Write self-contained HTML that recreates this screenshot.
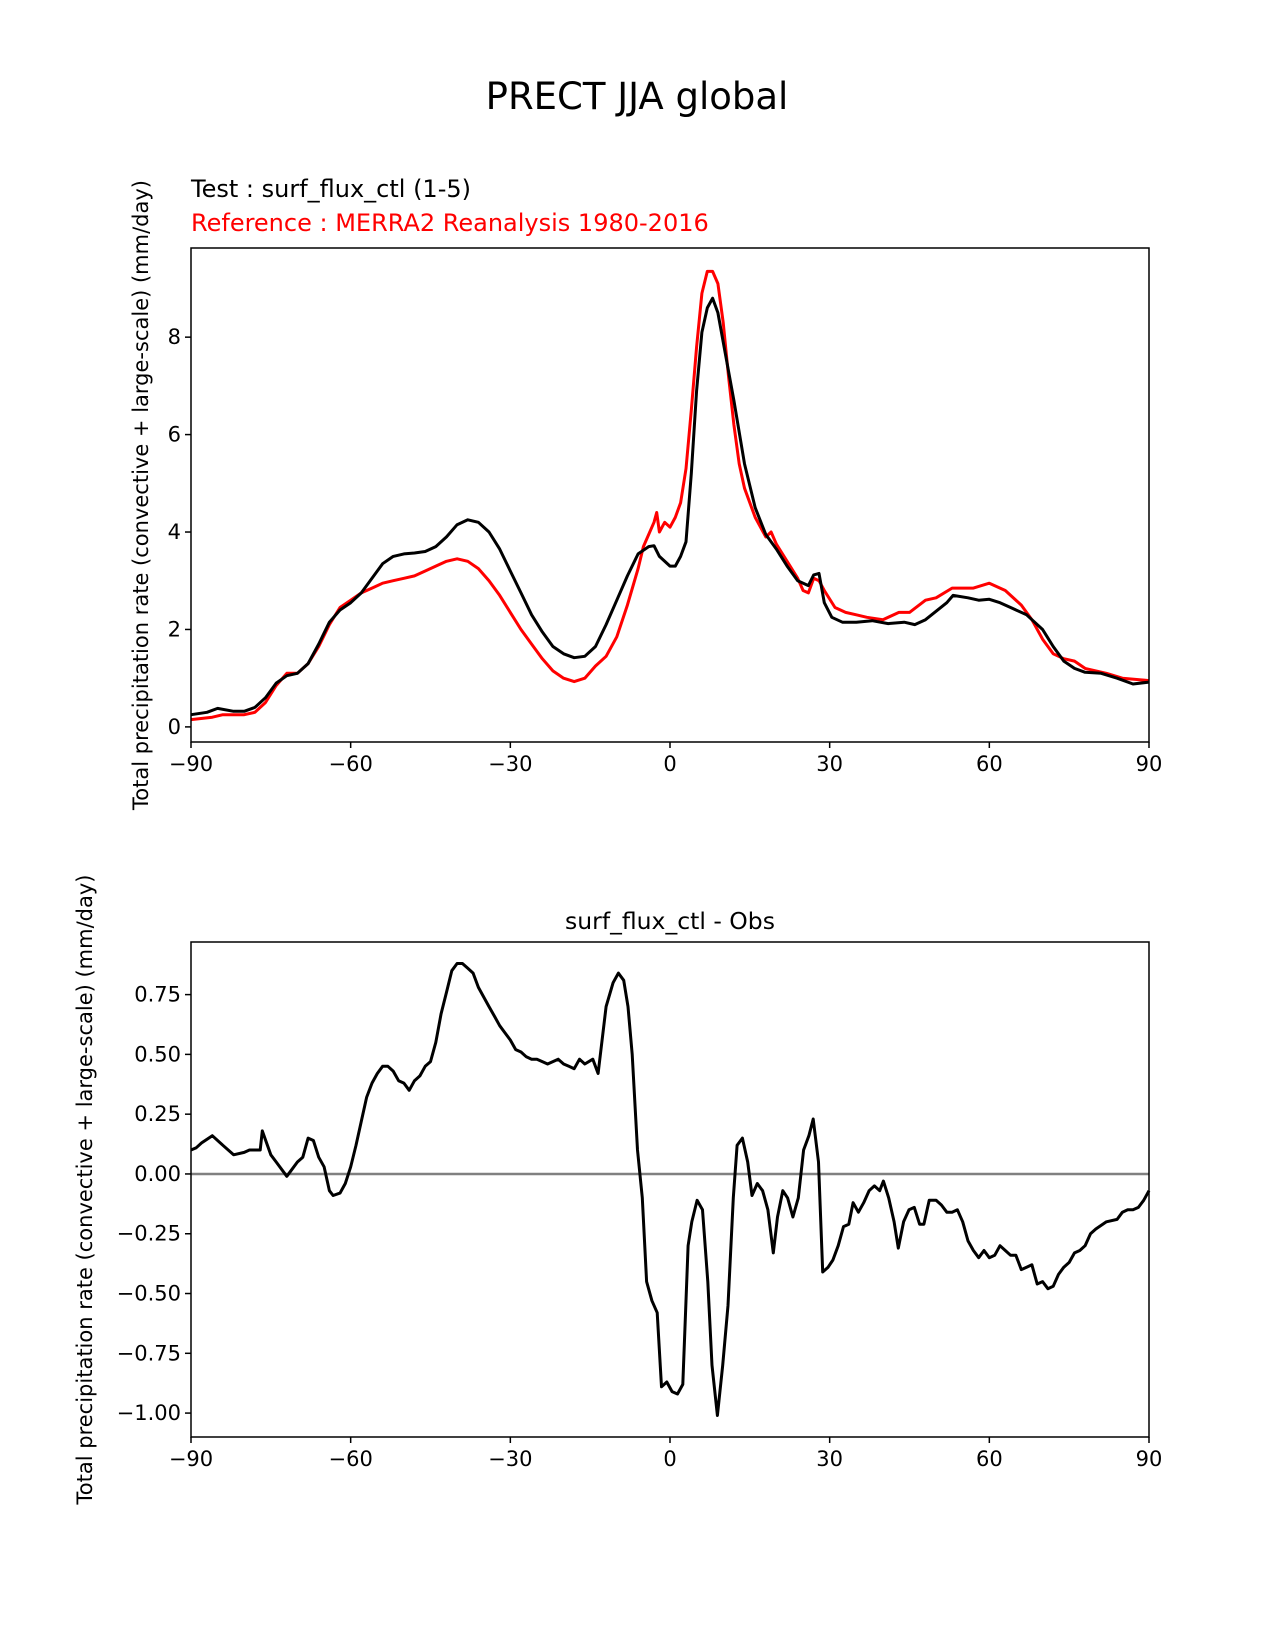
<!DOCTYPE html>
<html><head><meta charset="utf-8"><style>
body{margin:0;background:#fff}
svg{display:block;font-family:"DejaVu Sans","Liberation Sans",sans-serif}
</style></head><body>
<svg id="fig" width="1275" height="1650" viewBox="0 0 1275 1650">
<rect width="1275" height="1650" fill="#fff"/>
<text x="637" y="109" font-size="37" text-anchor="middle">PRECT JJA global</text>
<text x="191" y="197" font-size="24">Test : surf_flux_ctl (1-5)</text>
<text x="191" y="231" font-size="24" fill="#f00">Reference : MERRA2 Reanalysis 1980-2016</text>
<text x="670" y="929" font-size="23.5" text-anchor="middle">surf_flux_ctl - Obs</text>
<g id="top"></g>
<g id="bot"></g>
</svg>
<script>
const testLat=[-90,-87,-85,-82,-80,-78,-76,-74,-72,-70,-68,-66,-64,-62,-60,-58,-56,-54,-52,-50,-48,-46,-44,-42,-40,-38,-36,-34,-32,-30,-28,-26,-24,-22,-20,-18,-16,-14,-12,-10,-8,-6,-4,-3,-2,0,1,2,3,4,5,6,7,8,9,10,12,14,16,18,20,22,24,26,27,28,29,30.4,32.4,35,38,41,44,46,48,52,53.2,56,58,60,62,64,67,70,72,74,76,78,81,84,87,90];
const testVal=[0.25,0.3,0.38,0.32,0.32,0.4,0.6,0.9,1.05,1.1,1.3,1.7,2.15,2.4,2.55,2.75,3.05,3.35,3.5,3.55,3.57,3.6,3.7,3.9,4.15,4.25,4.2,4.0,3.65,3.2,2.75,2.3,1.95,1.65,1.5,1.42,1.45,1.65,2.1,2.6,3.1,3.55,3.7,3.72,3.5,3.3,3.3,3.5,3.8,5.2,6.9,8.1,8.6,8.8,8.5,7.9,6.7,5.4,4.5,3.95,3.65,3.3,3.0,2.9,3.12,3.15,2.55,2.25,2.15,2.15,2.18,2.12,2.15,2.1,2.2,2.55,2.7,2.65,2.6,2.62,2.55,2.45,2.3,2.0,1.65,1.35,1.2,1.12,1.1,1.0,0.88,0.92];
const refLat=[-90,-86,-84,-80,-78,-76,-74,-72,-70,-68,-66,-64,-62,-60,-58,-56,-54,-52,-50,-48,-46,-44,-42,-40,-38,-36,-34,-32,-30,-28,-26,-24,-22,-20,-18,-16,-14,-12,-10,-8,-6,-5,-3,-2.5,-2,-1,0,1,2,3,4,5,6,7,8,9,10,11,12,13,14,16,18,19,20,22,24,25,26,27,28,29,31,33,35,37,40,43,45,48,50,53,57,60,63,66,68,70,72,74,76,78,82,85,90];
const refVal=[0.15,0.2,0.25,0.25,0.3,0.5,0.85,1.1,1.1,1.3,1.65,2.1,2.45,2.6,2.75,2.85,2.95,3.0,3.05,3.1,3.2,3.3,3.4,3.45,3.4,3.25,3.0,2.7,2.35,2.0,1.7,1.4,1.15,1.0,0.93,1.0,1.25,1.45,1.85,2.5,3.25,3.7,4.2,4.4,4.0,4.2,4.1,4.3,4.6,5.3,6.5,7.8,8.9,9.35,9.35,9.1,8.3,7.2,6.2,5.4,4.9,4.3,3.9,4.0,3.75,3.4,3.05,2.8,2.75,3.05,3.0,2.8,2.45,2.35,2.3,2.25,2.2,2.35,2.35,2.6,2.65,2.85,2.85,2.95,2.8,2.5,2.2,1.8,1.5,1.4,1.35,1.2,1.1,1.0,0.95];
const diffLat=[-90,-89,-88,-86,-84,-82,-80,-79,-77,-76.6,-75,-74,-72,-71,-70,-69,-68,-67,-66,-65,-64,-63.3,-62,-61,-60,-59,-58,-57,-56,-55,-54,-53,-52,-51,-50,-49,-48,-47,-46,-45,-44,-43,-42,-41,-40,-39,-38,-37,-36,-35,-34,-33,-32,-31,-30,-29,-28,-27,-26,-25,-24,-23,-22,-21,-20,-19,-18,-17,-16,-14.5,-13.5,-12,-10.7,-9.7,-8.7,-7.9,-7.1,-6.1,-5.2,-4.4,-3.4,-2.4,-1.6,-0.6,0.4,1.4,2.4,3.4,4.1,5.1,6.1,7.1,7.9,8.9,9.9,10.9,11.9,12.6,13.6,14.6,15.4,16.4,17.4,18.4,19.4,20.2,21.2,22.1,23.1,24.1,25.1,26.1,26.9,27.9,28.7,29.7,30.6,31.6,32.6,33.6,34.4,35.4,36.4,37.4,38.4,39.4,40.1,41.1,42.1,42.9,43.9,44.9,45.9,46.9,47.7,48.7,50,51,52,53,54,55,56,57,58,59,60,61,62,63,64,65,66,67,68,69,70,71,72,73,74,75,76,77,78,79,80,82,84,85,86,87,88,89,90];
const diffVal=[0.1,0.11,0.13,0.16,0.12,0.08,0.09,0.1,0.1,0.18,0.08,0.05,-0.01,0.02,0.05,0.07,0.15,0.14,0.07,0.03,-0.07,-0.09,-0.08,-0.04,0.03,0.12,0.22,0.32,0.38,0.42,0.45,0.45,0.43,0.39,0.38,0.35,0.39,0.41,0.45,0.47,0.55,0.67,0.76,0.85,0.88,0.88,0.86,0.84,0.78,0.74,0.7,0.66,0.62,0.59,0.56,0.52,0.51,0.49,0.48,0.48,0.47,0.46,0.47,0.48,0.46,0.45,0.44,0.48,0.46,0.48,0.42,0.7,0.8,0.84,0.81,0.7,0.5,0.1,-0.1,-0.45,-0.53,-0.58,-0.89,-0.87,-0.91,-0.92,-0.88,-0.3,-0.2,-0.11,-0.15,-0.45,-0.8,-1.01,-0.8,-0.55,-0.1,0.12,0.15,0.05,-0.09,-0.04,-0.07,-0.15,-0.33,-0.18,-0.07,-0.1,-0.18,-0.1,0.1,0.16,0.23,0.05,-0.41,-0.39,-0.36,-0.3,-0.22,-0.21,-0.12,-0.16,-0.12,-0.07,-0.05,-0.07,-0.03,-0.1,-0.2,-0.31,-0.2,-0.15,-0.14,-0.21,-0.21,-0.11,-0.11,-0.13,-0.16,-0.16,-0.15,-0.2,-0.28,-0.32,-0.35,-0.32,-0.35,-0.34,-0.3,-0.32,-0.34,-0.34,-0.4,-0.39,-0.38,-0.46,-0.45,-0.48,-0.47,-0.42,-0.39,-0.37,-0.33,-0.32,-0.3,-0.25,-0.23,-0.2,-0.19,-0.16,-0.15,-0.15,-0.14,-0.11,-0.07,-0.06];
const xTicks=[-90,-60,-30,0,30,60,90];
const xTickLabels=["\u221290","\u221260","\u221230","0","30","60","90"];
const topYTicks=[0,2,4,6,8];
const topYTickLabels=["0","2","4","6","8"];
const botYTicks=[-1,-0.75,-0.5,-0.25,0,0.25,0.5,0.75];
const botYTickLabels=["\u22121.00","\u22120.75","\u22120.50","\u22120.25","0.00","0.25","0.50","0.75"];

const NS="http://www.w3.org/2000/svg";
function mk(parent,tag,attrs){const e=document.createElementNS(NS,tag);for(const k in attrs)e.setAttribute(k,attrs[k]);parent.appendChild(e);return e;}
const L=191,R=1149;
const xs=v=>L+(v+90)/180*(R-L);
function panel(g,top,bot,ymin,ymax,yt,ytl,ylabelX,name){
  const ys=v=>bot-(v-ymin)/(ymax-ymin)*(bot-top);
  xTicks.forEach((t,i)=>{
    const tk=mk(g,'line',{x1:xs(t),x2:xs(t),y1:bot,y2:bot+6,stroke:'#000','stroke-width':1.5});
    
    
    const tx=mk(g,'text',{x:xs(t),y:bot+29,'font-size':21,'text-anchor':'middle'});
    tx.textContent=xTickLabels[i];
    
    
  });
  yt.forEach((t,i)=>{
    const tk=mk(g,'line',{x1:L-6,x2:L,y1:ys(t),y2:ys(t),stroke:'#000','stroke-width':1.5});
    
    
    const tx=mk(g,'text',{x:L-10,y:ys(t)+7,'font-size':21,'text-anchor':'end'});
    tx.textContent=ytl[i];
    
    
  });
  const cy=(top+bot)/2;
  const yl=mk(g,'text',{x:ylabelX,y:cy,'font-size':21,'text-anchor':'middle',transform:`rotate(-90 ${ylabelX} ${cy})`});
  yl.textContent='Total precipitation rate (convective + large-scale) (mm/day)';
  
  
  return ys;
}
function line(g,lat,val,ys,color,name){
  const d=lat.map((x,i)=>(i?'L':'M')+xs(x).toFixed(1)+','+ys(val[i]).toFixed(1)).join('');
  const p=mk(g,'path',{d:d,fill:'none',stroke:color,'stroke-width':3,'stroke-linejoin':'round'});
  
  
}
const gt=document.getElementById('top');
const yT=panel(gt,248,742,-0.31,9.83,topYTicks,topYTickLabels,148,'top');
line(gt,refLat,refVal,yT,'#f00','reference-line');
line(gt,testLat,testVal,yT,'#000','test-line');
const ft=mk(gt,'rect',{x:L,y:248,width:R-L,height:742-248,fill:'none',stroke:'#000','stroke-width':1.5});



const gb=document.getElementById('bot');
const yB=panel(gb,942,1437,-1.10,0.97,botYTicks,botYTickLabels,92,'bottom');
const z=mk(gb,'line',{x1:L,x2:R,y1:yB(0),y2:yB(0),stroke:'#808080','stroke-width':2.5});


line(gb,diffLat,diffVal,yB,'#000','difference-line');
const fb=mk(gb,'rect',{x:L,y:942,width:R-L,height:1437-942,fill:'none',stroke:'#000','stroke-width':1.5});


</script>
</body></html>
